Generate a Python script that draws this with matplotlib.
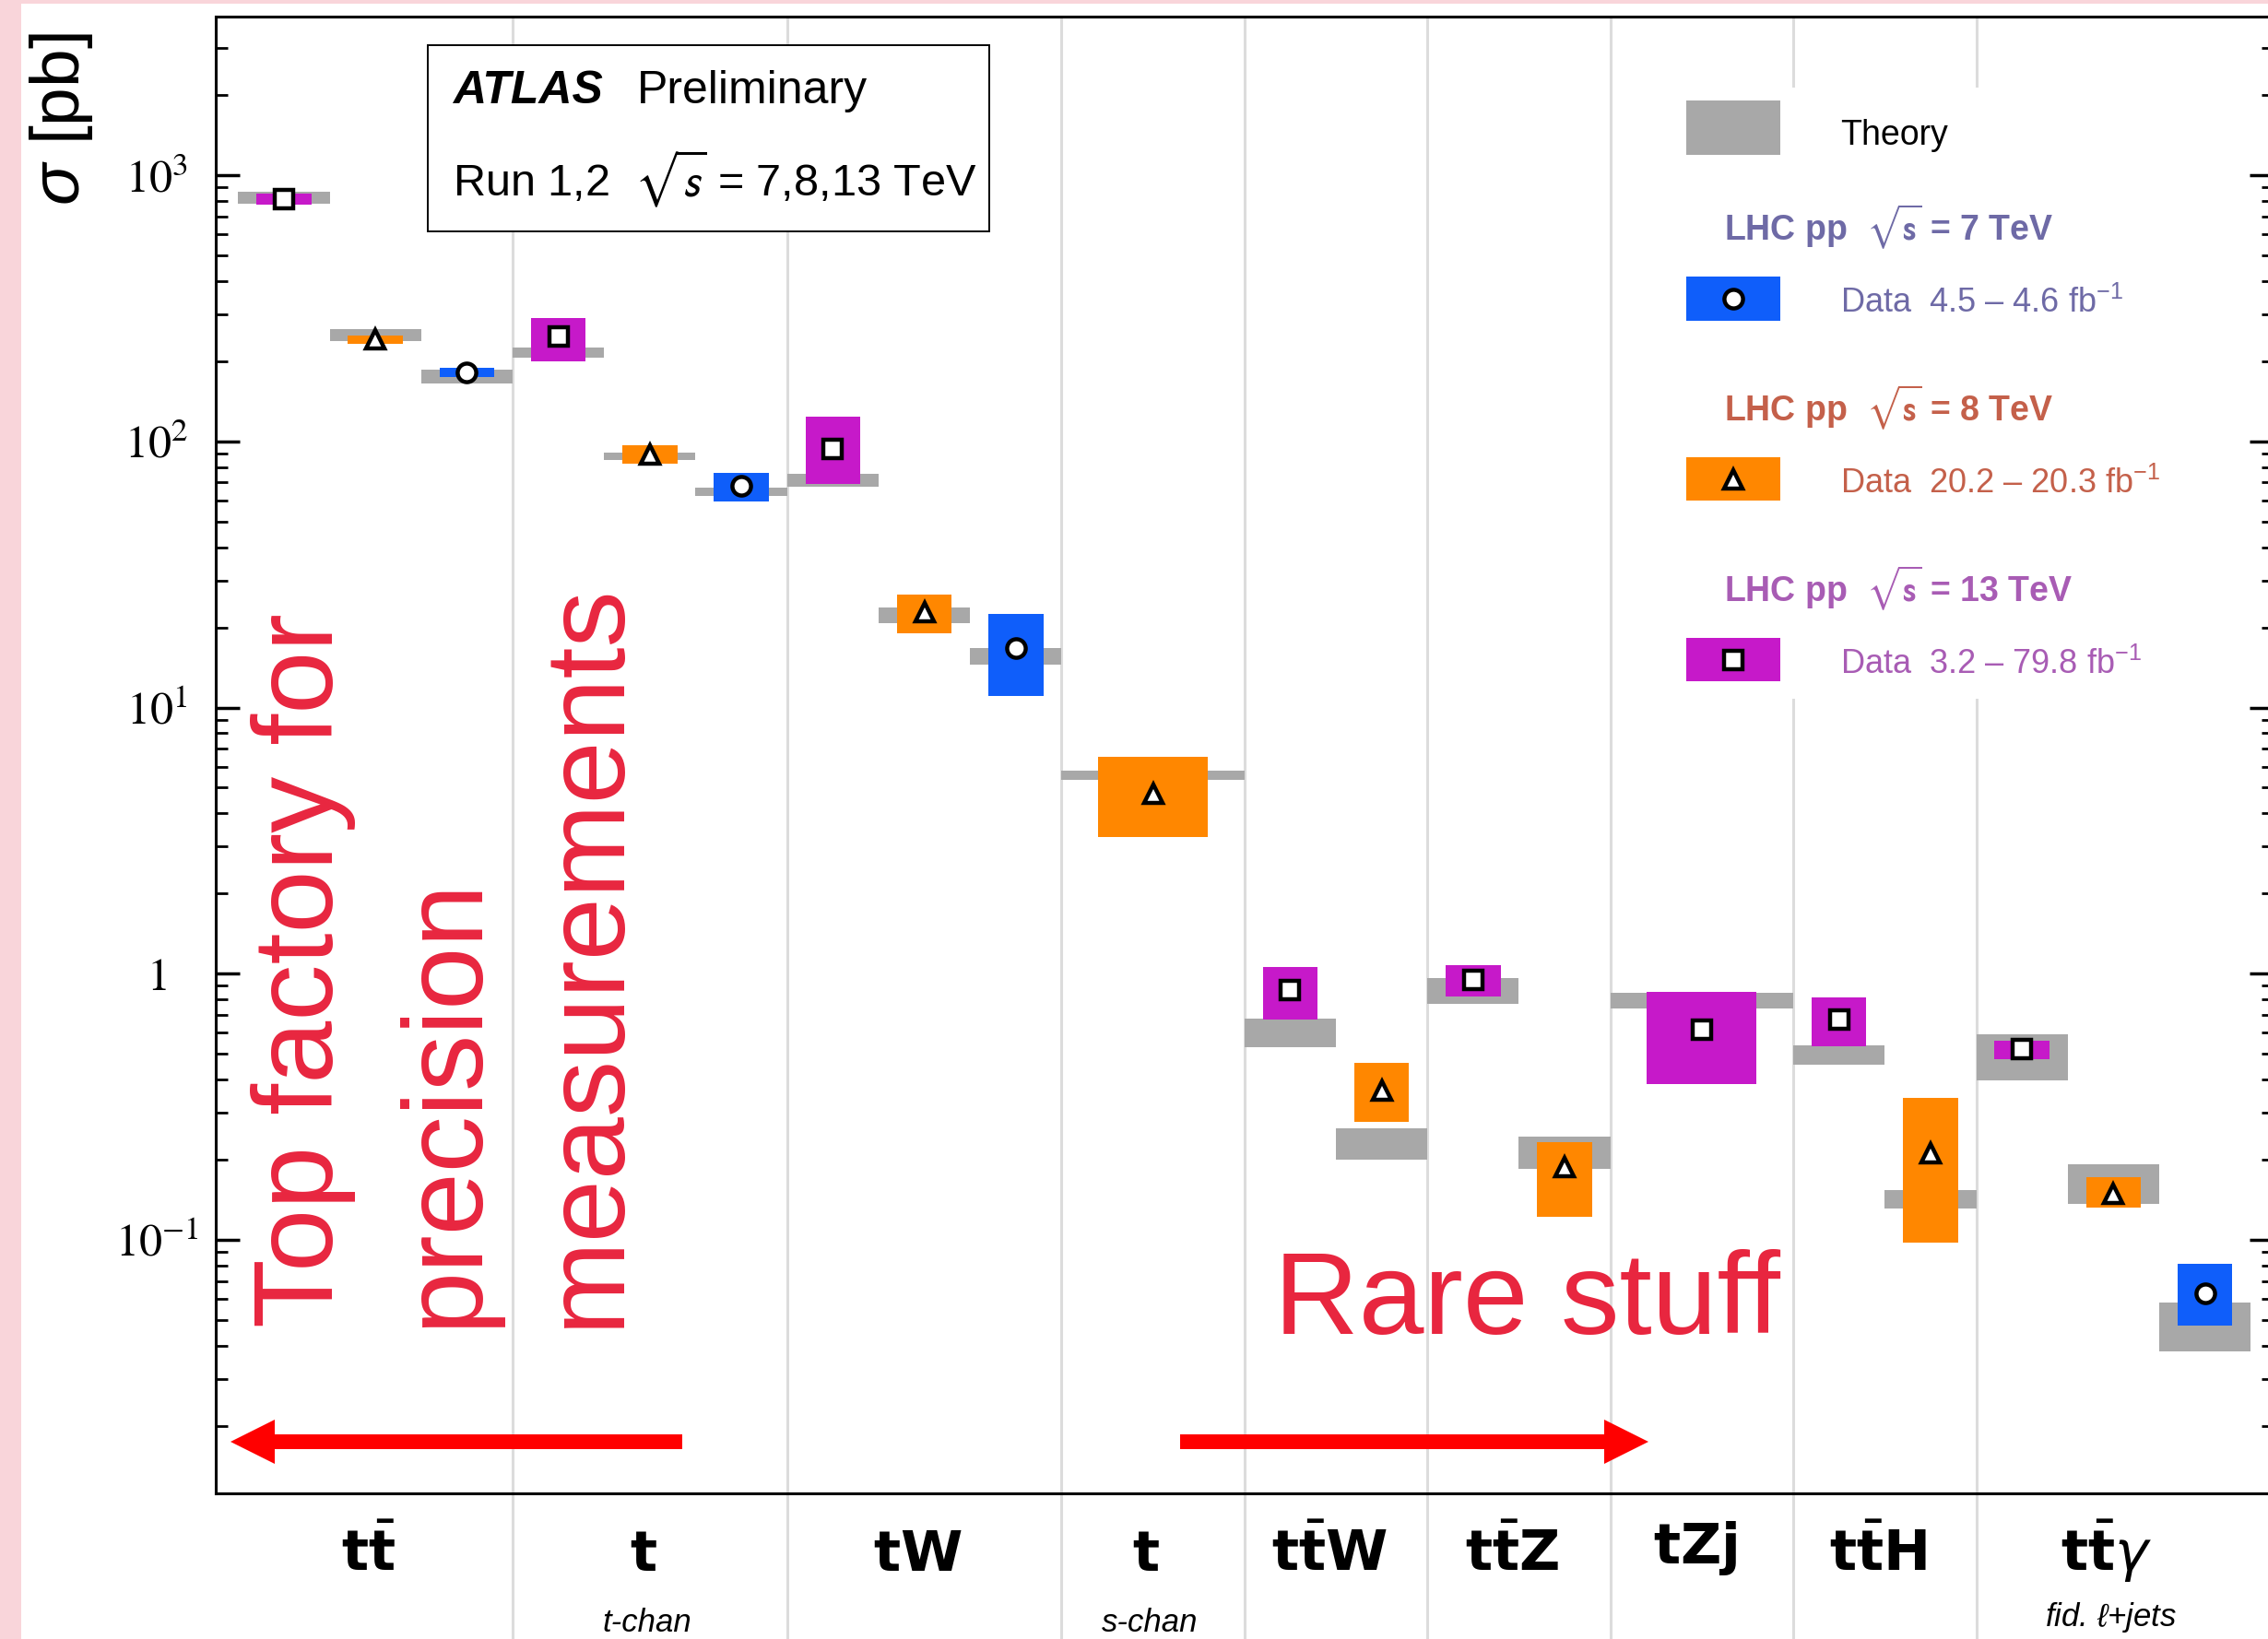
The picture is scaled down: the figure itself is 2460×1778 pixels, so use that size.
import numpy as np
import matplotlib
matplotlib.use('Agg')
import matplotlib.pyplot as plt
import matplotlib.transforms as mtransforms
from matplotlib.patches import Rectangle, FancyArrow
from matplotlib.ticker import LogLocator, NullFormatter

W, H, DPI = 2460, 1778, 100

plt.rcParams['font.family'] = ['Liberation Sans', 'DejaVu Sans']
plt.rcParams['mathtext.fontset'] = 'custom'
plt.rcParams['mathtext.rm'] = 'Liberation Sans'
plt.rcParams['mathtext.it'] = 'Liberation Sans:italic'
plt.rcParams['mathtext.bf'] = 'Liberation Sans:bold'

# process names under the x axis
categories = [r'$\mathbf{t}\bar{\mathbf{t}}$', r'$\mathbf{t}$', r'$\mathbf{tW}$', r'$\mathbf{t}$',
              r'$\mathbf{t}\bar{\mathbf{t}}\mathbf{W}$', r'$\mathbf{t}\bar{\mathbf{t}}\mathbf{Z}$',
              r'$\mathbf{tZj}$', r'$\mathbf{t}\bar{\mathbf{t}}\mathbf{H}$',
              r'$\mathbf{t}\bar{\mathbf{t}}\gamma$']
cat_notes = ['', 't-chan', '', 's-chan', '', '', '', '', r'fid. $\ell$+jets']

# one entry per measurement, left to right
meas_cat = [0, 0, 0, 1, 1, 1, 2, 2, 2, 3, 4, 4, 5, 5, 6, 7, 7, 8, 8, 8]
meas_sqrts = [13, 8, 7, 13, 8, 7, 13, 8, 7, 8, 13, 8, 13, 8, 13, 13, 8, 13, 8, 7]

# measured cross sections [pb] with total uncertainty band
xsec = [815, 241, 182, 247, 89.0, 68.0, 94.0, 22.8, 16.7, 4.75,
        0.87, 0.365, 0.945, 0.188, 0.615, 0.670, 0.212, 0.519, 0.149, 0.063]
xsec_lo = [776, 233, 175, 200, 82.6, 59.3, 69.4, 19.0, 11.05, 3.26,
           0.675, 0.277, 0.818, 0.122, 0.386, 0.534, 0.098, 0.479, 0.132, 0.0477]
xsec_hi = [853, 250, 189, 291, 96.4, 76.1, 123.3, 26.6, 22.4, 6.54,
           1.06, 0.462, 1.076, 0.233, 0.852, 0.812, 0.341, 0.562, 0.172, 0.0815]

# theory prediction bands [pb]
theory_lo = [780, 237.4, 165.4, 205.5, 85.3, 62.2, 67.4, 20.8, 14.5, 5.36,
             0.528, 0.200, 0.771, 0.185, 0.741, 0.455, 0.131, 0.396, 0.137, 0.0380]
theory_hi = [863, 264.4, 186.4, 225.9, 90.8, 67.1, 75.4, 23.8, 16.7, 5.80,
             0.678, 0.263, 0.965, 0.244, 0.848, 0.540, 0.154, 0.591, 0.192, 0.0580]

GREY = '#a8a8a8'
STYLE = {7: dict(color='#0f5efa', marker='o', ms=14.5, text='#6e6aa6',
                 lumi=r'Data  4.5 – 4.6 fb$^{-1}$'),
         8: dict(color='#ff8700', marker='^', ms=14.5, text='#c4604a',
                 lumi=r'Data  20.2 – 20.3 fb$^{-1}$'),
         13: dict(color='#c619c9', marker='s', ms=14.0, text='#a85cb4',
                  lumi=r'Data  3.2 – 79.8 fb$^{-1}$')}
RED_TEXT = '#e8263f'


def fx(px):
    return px / W


def fy(py):
    return 1 - py / H


# slot layout: a lone measurement gets a double-width slot
meas_cat = np.array(meas_cat)
meas_sqrts = np.array(meas_sqrts)
counts = np.bincount(meas_cat)
widths = np.where(counts[meas_cat] == 1, 2.0, 1.0)
starts = np.concatenate([[0.0], np.cumsum(widths)[:-1]])
centers = starts + widths / 2
cat_left = np.array([starts[meas_cat == c].min() for c in range(len(categories))])
cat_right = np.array([(starts + widths)[meas_cat == c].max() for c in range(len(categories))])
cat_centers = (cat_left + cat_right) / 2

fig = plt.figure(figsize=(W / DPI, H / DPI), dpi=DPI, facecolor='#f9d5da')
fig.patches.append(Rectangle((fx(23), 0), 1, 1 - 4 / H, transform=fig.transFigure,
                             facecolor='white', edgecolor='none', zorder=-1))
ax = fig.add_axes([233.6 / W, 1 - 1620 / H, (2466 - 233.6) / W, (1620 - 18) / H])

ax.set_yscale('log')
ax.set_xlim(-0.25, cat_right[-1] + 0.25)
ax.set_ylim(0.011158, 3942)

# separators between processes, running down through the label area
for b in cat_left[1:]:
    ax.plot([b, b], [1, -0.12], transform=ax.get_xaxis_transform(), color='#dcdcdc',
            lw=2.2, zorder=0.5, clip_on=False, solid_capstyle='butt')

# white panels for the ATLAS label and the legend
ax.add_patch(Rectangle((fx(463.7), fy(251)), (1073.3 - 463.7) / W, (251 - 49) / H,
                       transform=fig.transFigure, facecolor='white', edgecolor='black',
                       lw=1.4, zorder=1, clip_on=False))
ax.add_patch(Rectangle((fx(1790), fy(758)), (2440 - 1790) / W, (758 - 95) / H,
                       transform=fig.transFigure, facecolor='white', edgecolor='none',
                       zorder=1, clip_on=False))

# theory bands, data bands and central values
ax.bar(centers, np.subtract(theory_hi, theory_lo), width=widths, bottom=theory_lo,
       color=GREY, lw=0, zorder=2)
ax.bar(centers, np.subtract(xsec_hi, xsec_lo), width=0.6 * widths, bottom=xsec_lo,
       color=[STYLE[e]['color'] for e in meas_sqrts], lw=0, zorder=3)
for e, st in STYLE.items():
    sel = meas_sqrts == e
    ax.plot(centers[sel], np.array(xsec)[sel], ls='none', marker=st['marker'], ms=st['ms'],
            mfc='white', mec='black', mew=3.2, zorder=4)

# axes styling
for sp in ax.spines.values():
    sp.set_linewidth(2.2)
ax.tick_params(axis='x', which='both', bottom=False, top=False, labelbottom=False)
ax.tick_params(axis='y', which='both', direction='in', left=True, right=True)
ax.tick_params(axis='y', which='major', length=18.5, width=2.5, labelsize=36, pad=45.8)
ax.tick_params(axis='y', which='minor', length=9.5, width=2.0)
ax.set_yticks([0.1, 1, 10, 100, 1000],
              labels=[r'$10^{-1}$', r'$1$', r'$10^{1}$', r'$10^{2}$', r'$10^{3}$'])
ax.yaxis.set_minor_locator(LogLocator(base=10, subs=np.arange(2, 10), numticks=30))
ax.yaxis.set_minor_formatter(NullFormatter())
for lbl in ax.get_yticklabels():
    lbl.set_horizontalalignment('center')
    lbl.set_math_fontfamily('stix')

fig.text(fx(66.6), fy(129.5), r'$\sigma$ [pb]', rotation=90, ha='center', va='center',
         fontsize=54)

# process labels
lab_tr = mtransforms.blended_transform_factory(ax.transData, fig.transFigure)
for i, lab in enumerate(categories):
    base = 1696 if 'Zj' in lab else 1704
    ax.text(cat_centers[i] - 0.075, fy(base), lab, transform=lab_tr, ha='center',
            va='baseline', fontsize=44, math_fontfamily='dejavusans')
    if cat_notes[i]:
        nb = 1764 if 'fid' in cat_notes[i] else 1770
        ax.text(cat_centers[i] - 0.03, fy(nb), cat_notes[i], transform=lab_tr, ha='center',
                va='baseline', fontsize=25, style='italic')

# ATLAS label
fig.text(fx(491), fy(111.6), 'ATLAS', fontsize=36, fontweight='bold', style='italic',
         va='baseline')
fig.text(fx(691), fy(111.6), 'Preliminary', fontsize=36, va='baseline')
fig.text(fx(491), fy(213.4), r'Run 1,2  $\sqrt{s}$ = 7,8,13 TeV', fontsize=35,
         va='baseline', math_fontfamily='stixsans')

# legend
ax.add_patch(Rectangle((fx(1829), fy(167.5)), 102 / W, 58.5 / H, transform=fig.transFigure,
                       facecolor=GREY, edgecolor='none', zorder=5, clip_on=False))
fig.text(fx(1996), fy(157), 'Theory', fontsize=27, va='baseline')
leg_rows = [(7, 260, 300.5, 348, 339), (8, 456, 496.5, 543, 535), (13, 652, 692.5, 739, 731)]
for e, head_base, top, bot, data_base in leg_rows:
    st = STYLE[e]
    fig.text(fx(1870), fy(head_base), r'LHC pp  $\sqrt{\mathbf{s}}$ = %d TeV' % e,
             fontsize=27, fontweight='bold', color=st['text'], va='baseline',
             math_fontfamily='stixsans')
    ax.add_patch(Rectangle((fx(1829), fy(bot)), 102 / W, (bot - top) / H,
                           transform=fig.transFigure, facecolor=st['color'], edgecolor='none',
                           zorder=5, clip_on=False))
    ax.plot([fx(1880)], [fy((top + bot) / 2)], transform=fig.transFigure, ls='none',
            marker=st['marker'], ms=st['ms'], mfc='white', mec='black', mew=3.2, zorder=6,
            clip_on=False)
    fig.text(fx(1996), fy(data_base), st['lumi'], fontsize=26, color=st['text'],
             va='baseline')

# annotations
for px, txt in [(361, 'Top factory for'), (516, 'precision'), (670, 'measurements')]:
    fig.text(fx(px), fy(1440), txt, rotation=90, rotation_mode='anchor', ha='left',
             va='baseline', fontsize=88, color=RED_TEXT)
fig.text(fx(1382), fy(1447.5), 'Rare stuff', fontsize=91.5, color=RED_TEXT, va='baseline')

for tail, tip in [(740, 250), (1280, 1788)]:
    fig.patches.append(FancyArrow(fx(tail), fy(1564), fx(tip) - fx(tail), 0,
                                  width=16 / H, head_width=48 / H, head_length=48 / W,
                                  length_includes_head=True, transform=fig.transFigure,
                                  color='#ff0000', lw=0, zorder=5))

fig.savefig('out.png', dpi=DPI, facecolor=fig.get_facecolor())
